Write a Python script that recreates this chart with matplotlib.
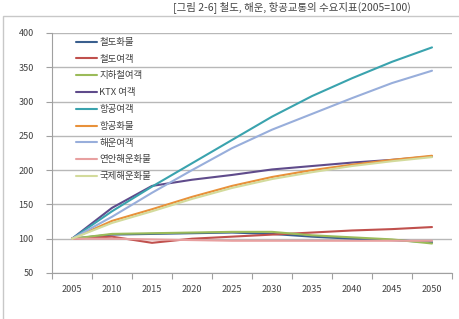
import matplotlib
matplotlib.use("Agg")
import matplotlib.pyplot as plt
from matplotlib.patches import Rectangle

plt.rcParams['font.family'] = ['Noto Sans CJK KR', 'DejaVu Sans']

years = ['2005', '2010', '2015', '2020', '2025', '2030', '2035', '2040', '2045', '2050']
series_names = ['철도화물', '철도여객', '지하철여객', 'KTX 여객', '항공여객', '항공화물',
                '해운여객', '연안해운화물', '국제해운화물']
rail_freight = [100, 106, 107, 108, 109, 107, 103, 100, 98, 95]
rail_pass = [100, 103, 94, 100, 103, 106, 109, 112, 114, 117]
subway_pass = [100, 107, 108, 109, 110, 110, 105, 102, 99, 93]
ktx_pass = [100, 145, 177, 186, 193, 201, 206, 211, 215, 220]
air_pass = [100, 140, 176, 210, 244, 278, 308, 334, 358, 379]
air_freight = [100, 126, 143, 161, 177, 190, 200, 208, 215, 221]
sea_pass = [100, 132, 167, 200, 232, 259, 282, 305, 327, 345]
coastal_freight = [100, 100, 99, 98, 97, 97, 97, 97, 97, 97]
intl_freight = [100, 123, 140, 158, 174, 187, 197, 206, 213, 219]
all_series = [rail_freight, rail_pass, subway_pass, ktx_pass, air_pass, air_freight,
              sea_pass, coastal_freight, intl_freight]
colors = ['#3A5F8E', '#C0504D', '#9BBB59', '#5F4B8B', '#3AA3AE', '#E8913A',
          '#98AEDB', '#E8A0A0', '#D3DB9C']
yticks = [50, 100, 150, 200, 250, 300, 350, 400]

W, H = 459, 319
fig = plt.figure(figsize=(W / 100, H / 100), dpi=100)

# outer frame
fig.patches.append(Rectangle((3 / W, -0.05), 1.1, 1 - 16 / H + 0.05,
                             transform=fig.transFigure, fill=False,
                             edgecolor='#c8c8c8', lw=1.0))
# title
fig.text(292 / W, 1 - 1 / H, '[그림 2-6] 철도, 해운, 항공교통의 수요지표(2005=100)',
         ha='center', va='top', fontsize=7.5, color='#444444')

ax = fig.add_axes([52 / W, 1 - 273 / H, 400 / W, 240 / H])
x = list(range(len(years)))
for name, vals, c in zip(series_names, all_series, colors):
    ax.plot(x, vals, color=c, lw=1.5, label=name, solid_capstyle='round')

ax.set_xlim(-0.5, len(years) - 0.5)
ax.set_ylim(50, 400)
ax.set_yticks(yticks)
ax.set_xticks([i - 0.5 for i in range(len(years) + 1)])
ax.set_xticklabels([])
ax.set_xticks(x, minor=True)
ax.set_xticklabels(years, minor=True)
ax.tick_params(axis='x', which='major', length=4, color='#a0a0a0', direction='out')
ax.tick_params(axis='x', which='minor', length=0, pad=9, labelsize=6.5, labelcolor='#404040')
ax.tick_params(axis='y', length=4, color='#a0a0a0', labelsize=6.5, labelcolor='#404040', pad=9)
ax.grid(axis='y', color='#b8b8b8', lw=1.0)
ax.set_axisbelow(True)
for s in ['top', 'right']:
    ax.spines[s].set_visible(False)
for s in ['left', 'bottom']:
    ax.spines[s].set_color('#a0a0a0')
ax.set_facecolor('none')

leg = ax.legend(loc='upper left', bbox_to_anchor=(0.05, 0.995), frameon=False,
                fontsize=6.8, handlelength=2.2, handletextpad=0.3,
                labelspacing=0.82, borderaxespad=0)
for t in leg.get_texts():
    t.set_color('#404040')

fig.savefig('out.png', dpi=100)
